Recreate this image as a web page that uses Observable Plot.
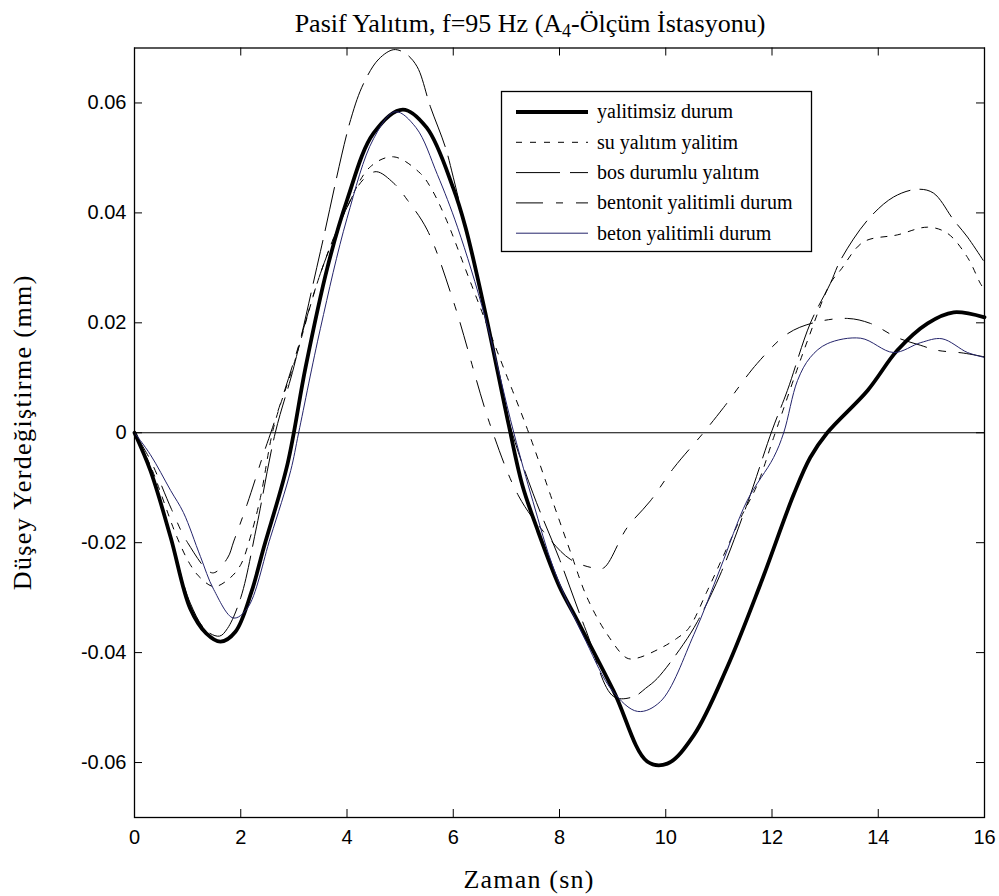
<!DOCTYPE html>
<html><head><meta charset="utf-8">
<script src="https://cdn.jsdelivr.net/npm/d3@7"></script>
<script src="https://cdn.jsdelivr.net/npm/@observablehq/plot@0.6"></script>
<style>
body{margin:0;background:#fff;}
#wrap{position:relative;width:999px;height:896px;}
#overlay{position:absolute;left:0;top:0;pointer-events:none;}
</style></head><body>
<div id="wrap"></div>
<script>
// ---- data ----
const seriesNames = ["yalitimsiz durum", "su yalıtım yalitim", "bos durumlu yalıtım", "bentonit yalitimli durum", "beton yalitimli durum"];

const tYalitimsiz = [0,0.3,0.68,1.05,1.35,1.62,1.9,2.2,2.43,2.88,3.22,3.63,4.0,4.5,5.05,5.5,6.0,6.23,6.6,7.04,7.3,7.58,8.0,8.3,9.02,9.65,10.03,10.53,11.15,11.78,12.41,12.72,13.04,13.8,14.36,14.93,15.42,16];
const vYalitimsiz = [0,-0.0069,-0.019,-0.032,-0.0365,-0.038,-0.0362,-0.029,-0.021,-0.0057,0.0119,0.030,0.0423,0.0545,0.0588,0.0555,0.0445,0.0374,0.022,0.0016,-0.0095,-0.0175,-0.028,-0.0335,-0.047,-0.0598,-0.0602,-0.055,-0.0428,-0.0276,-0.0112,-0.0045,0,0.0077,0.015,0.0199,0.0219,0.021];

const tSu = [0,0.3,0.8,1.05,1.24,1.5,1.8,2.0,2.18,2.37,2.62,3.0,3.5,4.0,4.44,4.88,5.38,5.57,5.85,6.3,6.9,7.42,7.89,8.2,8.52,8.9,9.27,9.46,9.9,10.21,10.43,10.78,11.15,11.41,11.73,12.03,12.67,13.1,13.29,13.72,14.36,14.93,15.3,15.68,15.92,16];
const vSu = [0,-0.006,-0.019,-0.024,-0.0264,-0.028,-0.0264,-0.024,-0.019,-0.0118,0.001,0.0125,0.029,0.041,0.0484,0.0502,0.0472,0.0447,0.0392,0.028,0.013,0,-0.013,-0.0215,-0.03,-0.0367,-0.041,-0.041,-0.0392,-0.0374,-0.0356,-0.0288,-0.021,-0.0155,-0.0093,-0.0009,0.0168,0.0272,0.0296,0.0347,0.036,0.0374,0.0363,0.0319,0.0272,0.026];

const tBos = [0,0.3,0.68,1.05,1.35,1.6,1.75,2.0,2.3,2.65,3.0,3.5,4.07,4.32,4.6,4.88,5.1,5.32,5.57,5.85,6.0,6.5,7.05,7.5,8.0,8.5,9.02,9.4,9.62,9.84,10.33,10.6,11.03,11.53,12.0,12.29,12.72,13.1,13.29,13.8,14.29,14.74,15.04,15.42,15.68,16];
const vBos = [0,-0.007,-0.019,-0.031,-0.036,-0.037,-0.0356,-0.03,-0.017,0,0.012,0.033,0.057,0.0637,0.068,0.0697,0.069,0.0666,0.0593,0.052,0.0465,0.026,0.002,-0.011,-0.023,-0.036,-0.048,-0.048,-0.0465,-0.0447,-0.0385,-0.0343,-0.0257,-0.013,0.0004,0.0077,0.0199,0.0272,0.0314,0.0387,0.0429,0.0443,0.0436,0.0387,0.0356,0.031];

const tBentonit = [0,0.3,0.7,1.0,1.47,1.75,1.87,2.12,2.43,2.6,3.0,3.5,4.0,4.3,4.55,4.88,5.14,5.51,6.0,6.7,7.23,7.7,8.2,8.64,8.83,9.27,9.71,10.15,10.71,11.09,11.72,12.29,12.78,13.42,13.85,14.36,14.8,15.11,15.6,16];
const vBentonit = [0,-0.005,-0.014,-0.02,-0.0255,-0.0228,-0.0197,-0.013,-0.0038,0.001,0.013,0.029,0.041,0.046,0.0475,0.0454,0.0423,0.0369,0.024,0.0013,-0.0115,-0.018,-0.023,-0.0246,-0.0246,-0.0173,-0.0124,-0.0064,0,0.0046,0.0126,0.018,0.02,0.0208,0.0199,0.0173,0.0159,0.015,0.0145,0.0138];

const tBeton = [0,0.3,0.68,0.92,1.24,1.49,1.86,2.12,2.56,2.94,3.09,3.5,4.0,4.5,4.91,5.3,5.7,6.08,6.6,7.14,7.5,7.9,8.5,9.0,9.47,9.9,10.53,11.03,11.53,12.03,12.22,12.48,12.72,13.04,13.67,14.29,14.8,15.2,15.68,16];
const vBeton = [0,-0.004,-0.0105,-0.0145,-0.0225,-0.0285,-0.0337,-0.032,-0.019,-0.0069,0,0.019,0.039,0.0535,0.0584,0.0555,0.047,0.0374,0.021,0,-0.0125,-0.025,-0.038,-0.047,-0.0507,-0.0489,-0.0367,-0.0246,-0.0124,-0.0045,0,0.0095,0.0137,0.0162,0.0172,0.0146,0.0164,0.0171,0.0146,0.0137];

const xTicks = [0,2,4,6,8,10,12,14,16];
const xTickLabels = ["0","2","4","6","8","10","12","14","16"];
const yTicks = [-0.06,-0.04,-0.02,0,0.02,0.04,0.06];
const yTickLabels = ["-0.06","-0.04","-0.02","0","0.02","0.04","0.06"];

const titleMain = "Pasif Yalıtım, f=95 Hz (A";
const titleSub = "4";
const titleRest = "-Ölçüm İstasyonu)";
const xLabel = "Zaman (sn)";
const yLabel = "Düşey Yerdeğiştirme (mm)";

// ---- styles ----
const styles = [
  {stroke:"#000", strokeWidth:3.8, dash:null},
  {stroke:"#000", strokeWidth:1, dash:"6,8"},
  {stroke:"#000", strokeWidth:1, dash:"44,10"},
  {stroke:"#000", strokeWidth:1, dash:"27,13,7,13"},
  {stroke:"#24246b", strokeWidth:1, dash:null}
];
const tArrays = [tYalitimsiz, tSu, tBos, tBentonit, tBeton];
const vArrays = [vYalitimsiz, vSu, vBos, vBentonit, vBeton];
const seriesData = seriesNames.map((name, k) => tArrays[k].map((t, i) => ({series: name, t, v: vArrays[k][i]})));

const W = 999, H = 896, mT = 47.5, mB = 79, mL = 134, mR = 15;
const plotH = H - mT - mB, plotW = W - mL - mR, tickLen = 8;
const sans = "'Liberation Sans', Arial, sans-serif";
const serif = "'Liberation Serif', 'Times New Roman', serif";

const lineMarks = seriesData.map((d, k) => Plot.line(d, {
  x: "t", y: "v", curve: "catmull-rom",
  stroke: styles[k].stroke, strokeWidth: styles[k].strokeWidth,
  strokeDasharray: styles[k].dash, strokeLinejoin: "round"
}));
const order = [1, 2, 3, 0, 4];

const chart = Plot.plot({
  width: W, height: H,
  marginTop: mT, marginBottom: mB, marginLeft: mL, marginRight: mR,
  style: {background: "white", color: "black"},
  x: {domain: [0, 16], label: null},
  y: {domain: [-0.07, 0.07], label: null},
  marks: [
    Plot.ruleY([0], {stroke: "black", strokeWidth: 1}),
    ...order.map(k => lineMarks[k]),
    Plot.frame({stroke: "black", strokeWidth: 1.3}),
    Plot.tickX(xTicks, {x: d => d, insetTop: plotH - tickLen, stroke: "black"}),
    Plot.tickX(xTicks, {x: d => d, insetBottom: plotH - tickLen, stroke: "black"}),
    Plot.tickY(yTicks, {y: d => d, insetRight: plotW - tickLen, stroke: "black"}),
    Plot.tickY(yTicks, {y: d => d, insetLeft: plotW - tickLen, stroke: "black"}),
    Plot.axisX({ticks: xTicks, tickSize: 0, tickPadding: 12, label: null,
      tickFormat: d => xTickLabels[xTicks.indexOf(d)], fontSize: 20, fontFamily: sans, fill: "black"}),
    Plot.axisY({ticks: yTicks, tickSize: 0, tickPadding: 8, label: null,
      tickFormat: d => yTickLabels[yTicks.indexOf(d)], fontSize: 20, fontFamily: sans, fill: "black"})
  ]
});
document.getElementById("wrap").appendChild(chart);

// ---- overlay: title, axis titles, legend ----
const ov = d3.select("#wrap").append("svg").attr("id", "overlay").attr("width", W).attr("height", H);
const title = ov.append("text").attr("x", 530).attr("y", 31.5).attr("text-anchor", "middle")
  .attr("font-family", serif).attr("font-size", 26).attr("fill", "black");
title.append("tspan").text(titleMain);
title.append("tspan").attr("font-size", 18).attr("dy", 5).text(titleSub);
title.append("tspan").attr("dy", -5).text(titleRest);

ov.append("text").attr("x", 529).attr("y", 888).attr("text-anchor", "middle")
  .attr("font-family", serif).attr("font-size", 26).attr("letter-spacing", 1.2).attr("fill", "black").text(xLabel);
ov.append("text").attr("transform", `translate(31,${mT + plotH / 2}) rotate(-90)`).attr("text-anchor", "middle")
  .attr("font-family", serif).attr("font-size", 26).attr("letter-spacing", 1.4).attr("fill", "black").text(yLabel);

const leg = ov.append("g").attr("transform", "translate(501,91)");
leg.append("rect").attr("x", 0.5).attr("y", 0.5).attr("width", 310).attr("height", 160)
  .attr("fill", "white").attr("stroke", "black").attr("stroke-width", 1.3);
seriesNames.forEach((name, k) => {
  const y = 21 + k * 30.3;
  leg.append("line").attr("x1", 15).attr("x2", 87).attr("y1", y).attr("y2", y)
    .attr("stroke", styles[k].stroke).attr("stroke-width", styles[k].strokeWidth)
    .attr("stroke-dasharray", styles[k].dash);
  leg.append("text").attr("x", 96).attr("y", y).attr("dy", "0.32em")
    .attr("font-family", serif).attr("font-size", 20).attr("fill", "black").text(name);
});
</script>
</body></html>
